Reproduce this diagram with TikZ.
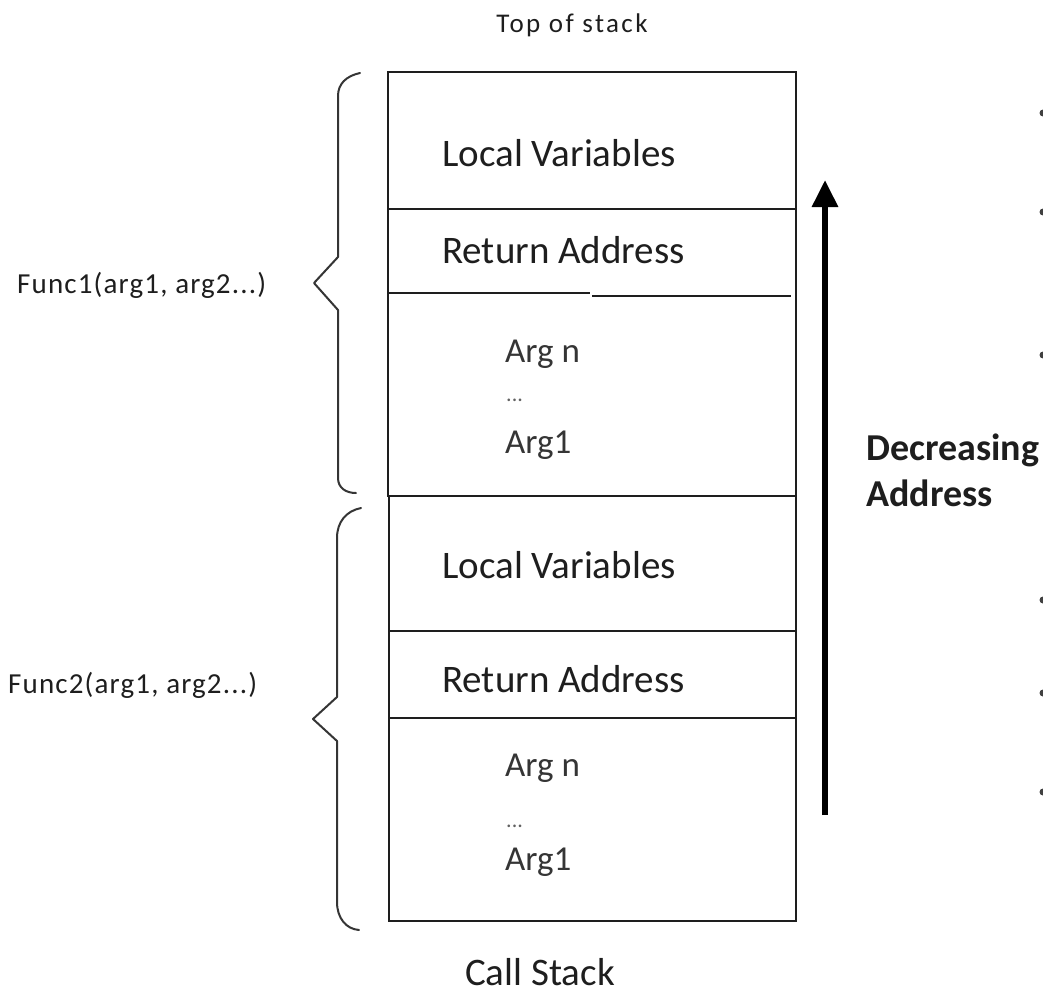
\documentclass[tikz,border=0pt]{standalone}
\usepackage{fontspec}
\setmainfont{Carlito}
\usetikzlibrary{arrows.meta}
\definecolor{ink}{HTML}{1E1E1E}
\begin{document}
\begin{tikzpicture}[x=1pt,y=-1pt,
  frame/.style={line width=2.2pt, draw=ink},
  bracepath/.style={line width=2pt, draw=ink!90, line join=round, line cap=round},
  celltext/.style={anchor=base west, inner sep=0pt, text=ink, font=\fontsize{39}{42}\selectfont},
  argtext/.style={anchor=base west, inner sep=0pt, text=ink!90, font=\fontsize{35}{38}\selectfont},
  dotstext/.style={anchor=base west, inner sep=0pt, text=ink!70, font=\fontsize{22}{24}\selectfont},
  sidetext/.style={anchor=base west, inner sep=0pt, text=ink, font=\fontsize{29}{32}\selectfont\addfontfeature{LetterSpace=4}},
  boldtext/.style={anchor=base west, inner sep=0pt, text=ink, font=\fontsize{38}{41}\selectfont\bfseries},
  edgemark/.style={fill=ink!85, draw=none}]
\useasboundingbox (0,0) rectangle (1043,996);

% stack frames: upper call (Func1) and lower call (Func2)
\coordinate (f1nw) at (388,72);
\coordinate (f1se) at (796,496);
\coordinate (f2nw) at (389,496);
\coordinate (f2se) at (796,921);
\draw[frame] (f1nw) rectangle (f1se);
\draw[frame] (f2nw) rectangle (f2se);

% separators inside Func1 frame
\draw[frame] (388,209) -- (796,209);
\draw[frame] (388,293) -- (590,293);
\draw[frame] (592,296) -- (791,296);
% separators inside Func2 frame
\draw[frame] (389,631) -- (796,631);
\draw[frame] (389,718) -- (796,718);

% cell contents
\node[celltext] (lv1) at (442,166) {Local Variables};
\node[celltext] (ra1) at (442,263) {Return Address};
\node[argtext] (an1) at (505,362) {Arg n};
\node[dotstext] (dd1) at (506,401) {...};
\node[argtext] (a11) at (505,453) {Arg1};

\node[celltext] (lv2) at (442,578) {Local Variables};
\node[celltext] (ra2) at (442,692) {Return Address};
\node[argtext] (an2) at (505,776) {Arg n};
\node[dotstext] (dd2) at (506,827) {...};
\node[argtext] (a12) at (505,870) {Arg1};

% captions
\node[anchor=base, inner sep=0pt, text=ink, font=\fontsize{27}{29}\selectfont\addfontfeature{LetterSpace=9}] (top) at (572,32) {Top of stack};
\node[anchor=base, inner sep=0pt, text=ink, font=\fontsize{39}{42}\selectfont] (cap) at (540,985) {Call Stack};

% function labels
\node[sidetext] (fn1) at (17,293) {Func1(arg1, arg2...)};
\node[sidetext] (fn2) at (8,693) {Func2(arg1, arg2...)};

% curly braces grouping each frame
\draw[bracepath] (360,73) .. controls (346,76) and (338,84) .. (338,96)
  -- (338,257) -- (314,283) -- (338,310) -- (338,478)
  .. controls (338,488) and (346,493) .. (356,493);
\draw[bracepath] (361,508) .. controls (346,511) and (337,522) .. (337,538)
  -- (337,697) -- (313,719) -- (337,741) -- (337,902)
  .. controls (337,918) and (346,929) .. (359,930);

% direction of decreasing addresses
\coordinate (arrbot) at (825,815);
\coordinate (arrtop) at (825,180);
\draw[line width=6pt, -{Triangle[width=25pt,length=27pt]}] (arrbot) -- (arrtop);
\node[boldtext] (dec) at (866,460) {Decreasing};
\node[boldtext] (adr) at (866,506) {Address};

% bullet marks clipped at the right border
\foreach \yy in {113,212,355,600,693,792}
  \fill[edgemark] (1043,\yy) circle (3.5pt);
\end{tikzpicture}
\end{document}
